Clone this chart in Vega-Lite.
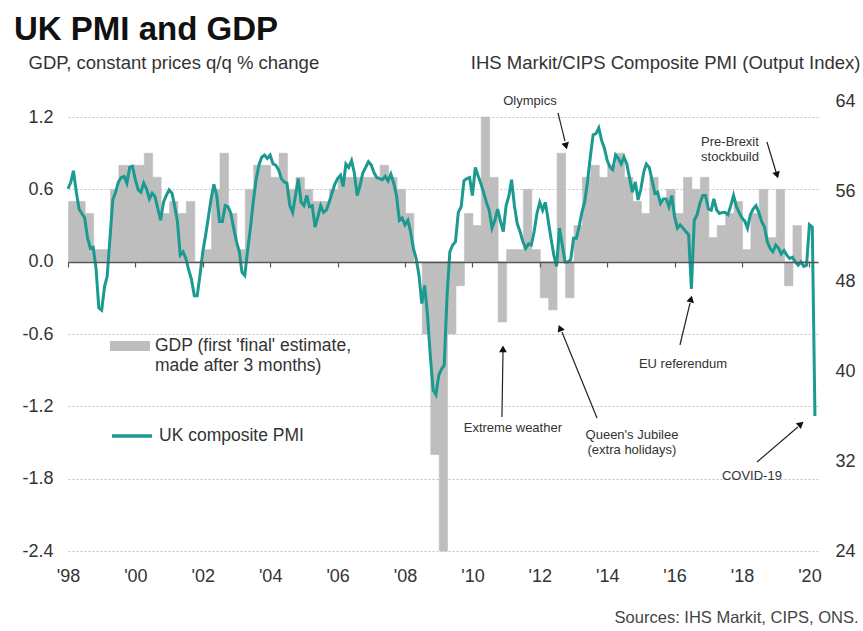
{
"$schema": "https://vega.github.io/schema/vega-lite/v6.json",
"width": 750, "height": 450,
"autosize": {"type": "none"},
"padding": {"left": 68, "top": 101, "right": 45, "bottom": 80},
"background": "white",
"config": {"view": {"stroke": null}, "font": "Liberation Sans", "bar": {"binSpacing": 0, "timeUnitBandSize": 1}, "axis": {"labelFont": "Liberation Sans", "titleFont": "Liberation Sans", "labelColor": "#333", "labelFontSize": 18}, "legend": {"labelFont": "Liberation Sans"}},
"title": {"text": "UK PMI and GDP", "anchor": "start", "frame": "group", "fontSize": 33, "fontWeight": "bold", "font": "Liberation Sans", "color": "#111", "dx": -54, "dy": 30, "offset": 10, "baseline": "alphabetic"},
"datasets": {
"gdp": [
{"d":"1998-02-15","v":0.5},{"d":"1998-05-15","v":0.5},{"d":"1998-08-15","v":0.4},{"d":"1998-11-15","v":0.1},
{"d":"1999-02-15","v":0.1},{"d":"1999-05-15","v":0.6},{"d":"1999-08-15","v":0.8},{"d":"1999-11-15","v":0.8},
{"d":"2000-02-15","v":0.8},{"d":"2000-05-15","v":0.9},{"d":"2000-08-15","v":0.7},{"d":"2000-11-15","v":0.4},
{"d":"2001-02-15","v":0.5},{"d":"2001-05-15","v":0.4},{"d":"2001-08-15","v":0.5},{"d":"2001-11-15","v":0.0},
{"d":"2002-02-15","v":0.1},{"d":"2002-05-15","v":0.6},{"d":"2002-08-15","v":0.9},{"d":"2002-11-15","v":0.4},
{"d":"2003-02-15","v":0.1},{"d":"2003-05-15","v":0.6},{"d":"2003-08-15","v":0.8},{"d":"2003-11-15","v":0.8},
{"d":"2004-02-15","v":0.7},{"d":"2004-05-15","v":0.9},{"d":"2004-08-15","v":0.6},{"d":"2004-11-15","v":0.7},
{"d":"2005-02-15","v":0.6},{"d":"2005-05-15","v":0.5},{"d":"2005-08-15","v":0.5},{"d":"2005-11-15","v":0.6},
{"d":"2006-02-15","v":0.7},{"d":"2006-05-15","v":0.7},{"d":"2006-08-15","v":0.7},{"d":"2006-11-15","v":0.7},
{"d":"2007-02-15","v":0.7},{"d":"2007-05-15","v":0.8},{"d":"2007-08-15","v":0.7},{"d":"2007-11-15","v":0.6},
{"d":"2008-02-15","v":0.4},{"d":"2008-05-15","v":0.0},{"d":"2008-08-15","v":-0.6},{"d":"2008-11-15","v":-1.6},
{"d":"2009-02-15","v":-2.4},{"d":"2009-05-15","v":-0.6},{"d":"2009-08-15","v":-0.2},{"d":"2009-11-15","v":0.4},
{"d":"2010-02-15","v":0.3},{"d":"2010-05-15","v":1.2},{"d":"2010-08-15","v":0.7},{"d":"2010-11-15","v":-0.5},
{"d":"2011-02-15","v":0.1},{"d":"2011-05-15","v":0.1},{"d":"2011-08-15","v":0.6},{"d":"2011-11-15","v":0.1},
{"d":"2012-02-15","v":-0.3},{"d":"2012-05-15","v":-0.4},{"d":"2012-08-15","v":0.9},{"d":"2012-11-15","v":-0.3},
{"d":"2013-02-15","v":0.3},{"d":"2013-05-15","v":0.7},{"d":"2013-08-15","v":0.8},{"d":"2013-11-15","v":0.7},
{"d":"2014-02-15","v":0.8},{"d":"2014-05-15","v":0.9},{"d":"2014-08-15","v":0.7},{"d":"2014-11-15","v":0.5},
{"d":"2015-02-15","v":0.4},{"d":"2015-05-15","v":0.7},{"d":"2015-08-15","v":0.5},{"d":"2015-11-15","v":0.6},
{"d":"2016-02-15","v":0.4},{"d":"2016-05-15","v":0.7},{"d":"2016-08-15","v":0.6},{"d":"2016-11-15","v":0.7},
{"d":"2017-02-15","v":0.2},{"d":"2017-05-15","v":0.3},{"d":"2017-08-15","v":0.4},{"d":"2017-11-15","v":0.5},
{"d":"2018-02-15","v":0.1},{"d":"2018-05-15","v":0.4},{"d":"2018-08-15","v":0.6},{"d":"2018-11-15","v":0.2},
{"d":"2019-02-15","v":0.6},{"d":"2019-05-15","v":-0.2},{"d":"2019-08-15","v":0.3},{"d":"2019-11-15","v":0.0}
],
"pmi": [
{"m":"1998-01-01","p":56.2},{"m":"1998-02-01","p":56.8},{"m":"1998-03-01","p":57.8},{"m":"1998-04-01","p":55.9},{"m":"1998-05-01","p":54.4},{"m":"1998-06-01","p":54.0},{"m":"1998-07-01","p":53.6},{"m":"1998-08-01","p":51.8},{"m":"1998-09-01","p":50.9},{"m":"1998-10-01","p":51.0},{"m":"1998-11-01","p":49.1},{"m":"1998-12-01","p":45.6},
{"m":"1999-01-01","p":45.4},{"m":"1999-02-01","p":47.5},{"m":"1999-03-01","p":48.4},{"m":"1999-04-01","p":51.8},{"m":"1999-05-01","p":55.2},{"m":"1999-06-01","p":55.9},{"m":"1999-07-01","p":56.8},{"m":"1999-08-01","p":57.2},{"m":"1999-09-01","p":57.3},{"m":"1999-10-01","p":56.7},{"m":"1999-11-01","p":58.1},{"m":"1999-12-01","p":58.2},
{"m":"2000-01-01","p":57.0},{"m":"2000-02-01","p":56.1},{"m":"2000-03-01","p":55.9},{"m":"2000-04-01","p":56.7},{"m":"2000-05-01","p":56.2},{"m":"2000-06-01","p":55.3},{"m":"2000-07-01","p":55.8},{"m":"2000-08-01","p":55.5},{"m":"2000-09-01","p":54.4},{"m":"2000-10-01","p":53.4},{"m":"2000-11-01","p":55.0},{"m":"2000-12-01","p":55.6},
{"m":"2001-01-01","p":56.1},{"m":"2001-02-01","p":55.8},{"m":"2001-03-01","p":54.7},{"m":"2001-04-01","p":53.3},{"m":"2001-05-01","p":50.3},{"m":"2001-06-01","p":50.6},{"m":"2001-07-01","p":50.0},{"m":"2001-08-01","p":49.0},{"m":"2001-09-01","p":48.1},{"m":"2001-10-01","p":46.7},{"m":"2001-11-01","p":46.7},{"m":"2001-12-01","p":48.5},
{"m":"2002-01-01","p":50.6},{"m":"2002-02-01","p":52.1},{"m":"2002-03-01","p":53.6},{"m":"2002-04-01","p":55.3},{"m":"2002-05-01","p":56.6},{"m":"2002-06-01","p":55.6},{"m":"2002-07-01","p":53.3},{"m":"2002-08-01","p":53.3},{"m":"2002-09-01","p":54.7},{"m":"2002-10-01","p":54.6},{"m":"2002-11-01","p":54.0},{"m":"2002-12-01","p":52.7},
{"m":"2003-01-01","p":51.5},{"m":"2003-02-01","p":50.6},{"m":"2003-03-01","p":48.8},{"m":"2003-04-01","p":48.5},{"m":"2003-05-01","p":50.7},{"m":"2003-06-01","p":52.7},{"m":"2003-07-01","p":55.0},{"m":"2003-08-01","p":57.0},{"m":"2003-09-01","p":58.3},{"m":"2003-10-01","p":59.0},{"m":"2003-11-01","p":59.2},{"m":"2003-12-01","p":58.9},
{"m":"2004-01-01","p":59.2},{"m":"2004-02-01","p":58.4},{"m":"2004-03-01","p":58.3},{"m":"2004-04-01","p":57.9},{"m":"2004-05-01","p":57.1},{"m":"2004-06-01","p":56.8},{"m":"2004-07-01","p":56.7},{"m":"2004-08-01","p":54.7},{"m":"2004-09-01","p":54.1},{"m":"2004-10-01","p":55.6},{"m":"2004-11-01","p":57.1},{"m":"2004-12-01","p":55.0},
{"m":"2005-01-01","p":54.7},{"m":"2005-02-01","p":55.6},{"m":"2005-03-01","p":54.6},{"m":"2005-04-01","p":54.7},{"m":"2005-05-01","p":52.8},{"m":"2005-06-01","p":53.7},{"m":"2005-07-01","p":54.7},{"m":"2005-08-01","p":54.1},{"m":"2005-09-01","p":54.3},{"m":"2005-10-01","p":55.0},{"m":"2005-11-01","p":55.8},{"m":"2005-12-01","p":56.6},
{"m":"2006-01-01","p":57.1},{"m":"2006-02-01","p":57.4},{"m":"2006-03-01","p":56.4},{"m":"2006-04-01","p":58.4},{"m":"2006-05-01","p":58.1},{"m":"2006-06-01","p":58.7},{"m":"2006-07-01","p":57.6},{"m":"2006-08-01","p":55.6},{"m":"2006-09-01","p":56.5},{"m":"2006-10-01","p":57.6},{"m":"2006-11-01","p":58.1},{"m":"2006-12-01","p":58.6},
{"m":"2007-01-01","p":58.3},{"m":"2007-02-01","p":57.6},{"m":"2007-03-01","p":57.2},{"m":"2007-04-01","p":57.1},{"m":"2007-05-01","p":57.0},{"m":"2007-06-01","p":57.3},{"m":"2007-07-01","p":56.9},{"m":"2007-08-01","p":57.5},{"m":"2007-09-01","p":56.7},{"m":"2007-10-01","p":55.6},{"m":"2007-11-01","p":53.4},{"m":"2007-12-01","p":53.6},
{"m":"2008-01-01","p":53.0},{"m":"2008-02-01","p":53.4},{"m":"2008-03-01","p":52.4},{"m":"2008-04-01","p":50.9},{"m":"2008-05-01","p":50.0},{"m":"2008-06-01","p":48.5},{"m":"2008-07-01","p":46.0},{"m":"2008-08-01","p":47.6},{"m":"2008-09-01","p":45.0},{"m":"2008-10-01","p":41.4},{"m":"2008-11-01","p":38.3},{"m":"2008-12-01","p":37.9},
{"m":"2009-01-01","p":39.6},{"m":"2009-02-01","p":40.2},{"m":"2009-03-01","p":40.5},{"m":"2009-04-01","p":46.7},{"m":"2009-05-01","p":50.6},{"m":"2009-06-01","p":51.2},{"m":"2009-07-01","p":51.5},{"m":"2009-08-01","p":54.1},{"m":"2009-09-01","p":54.6},{"m":"2009-10-01","p":56.9},{"m":"2009-11-01","p":57.1},{"m":"2009-12-01","p":57.2},
{"m":"2010-01-01","p":55.6},{"m":"2010-02-01","p":58.1},{"m":"2010-03-01","p":57.4},{"m":"2010-04-01","p":56.7},{"m":"2010-05-01","p":55.9},{"m":"2010-06-01","p":55.0},{"m":"2010-07-01","p":54.3},{"m":"2010-08-01","p":52.7},{"m":"2010-09-01","p":53.4},{"m":"2010-10-01","p":54.4},{"m":"2010-11-01","p":53.3},{"m":"2010-12-01","p":52.4},
{"m":"2011-01-01","p":54.7},{"m":"2011-02-01","p":55.6},{"m":"2011-03-01","p":57.0},{"m":"2011-04-01","p":54.7},{"m":"2011-05-01","p":53.1},{"m":"2011-06-01","p":52.4},{"m":"2011-07-01","p":51.5},{"m":"2011-08-01","p":50.9},{"m":"2011-09-01","p":51.3},{"m":"2011-10-01","p":51.2},{"m":"2011-11-01","p":52.4},{"m":"2011-12-01","p":54.0},
{"m":"2012-01-01","p":55.0},{"m":"2012-02-01","p":54.3},{"m":"2012-03-01","p":55.0},{"m":"2012-04-01","p":53.4},{"m":"2012-05-01","p":51.8},{"m":"2012-06-01","p":50.3},{"m":"2012-07-01","p":49.3},{"m":"2012-08-01","p":52.7},{"m":"2012-09-01","p":51.2},{"m":"2012-10-01","p":49.7},{"m":"2012-11-01","p":49.7},{"m":"2012-12-01","p":49.9},
{"m":"2013-01-01","p":51.8},{"m":"2013-02-01","p":51.8},{"m":"2013-03-01","p":52.8},{"m":"2013-04-01","p":54.1},{"m":"2013-05-01","p":55.0},{"m":"2013-06-01","p":56.8},{"m":"2013-07-01","p":59.0},{"m":"2013-08-01","p":61.0},{"m":"2013-09-01","p":61.1},{"m":"2013-10-01","p":61.6},{"m":"2013-11-01","p":60.5},{"m":"2013-12-01","p":59.8},
{"m":"2014-01-01","p":58.7},{"m":"2014-02-01","p":58.1},{"m":"2014-03-01","p":57.9},{"m":"2014-04-01","p":59.2},{"m":"2014-05-01","p":58.9},{"m":"2014-06-01","p":58.4},{"m":"2014-07-01","p":59.0},{"m":"2014-08-01","p":58.4},{"m":"2014-09-01","p":57.1},{"m":"2014-10-01","p":55.9},{"m":"2014-11-01","p":56.8},{"m":"2014-12-01","p":55.2},
{"m":"2015-01-01","p":56.2},{"m":"2015-02-01","p":57.7},{"m":"2015-03-01","p":58.4},{"m":"2015-04-01","p":58.1},{"m":"2015-05-01","p":57.0},{"m":"2015-06-01","p":55.8},{"m":"2015-07-01","p":55.9},{"m":"2015-08-01","p":54.9},{"m":"2015-09-01","p":55.3},{"m":"2015-10-01","p":55.3},{"m":"2015-11-01","p":54.6},{"m":"2015-12-01","p":55.6},
{"m":"2016-01-01","p":53.7},{"m":"2016-02-01","p":52.7},{"m":"2016-03-01","p":53.0},{"m":"2016-04-01","p":52.7},{"m":"2016-05-01","p":52.4},{"m":"2016-06-01","p":52.1},{"m":"2016-07-01","p":47.3},{"m":"2016-08-01","p":53.4},{"m":"2016-09-01","p":53.9},{"m":"2016-10-01","p":54.9},{"m":"2016-11-01","p":55.6},{"m":"2016-12-01","p":55.6},
{"m":"2017-01-01","p":54.4},{"m":"2017-02-01","p":54.3},{"m":"2017-03-01","p":55.3},{"m":"2017-04-01","p":54.3},{"m":"2017-05-01","p":54.0},{"m":"2017-06-01","p":54.1},{"m":"2017-07-01","p":54.1},{"m":"2017-08-01","p":53.9},{"m":"2017-09-01","p":54.7},{"m":"2017-10-01","p":55.6},{"m":"2017-11-01","p":54.6},{"m":"2017-12-01","p":54.1},
{"m":"2018-01-01","p":53.6},{"m":"2018-02-01","p":53.3},{"m":"2018-03-01","p":52.7},{"m":"2018-04-01","p":53.9},{"m":"2018-05-01","p":54.4},{"m":"2018-06-01","p":54.7},{"m":"2018-07-01","p":54.1},{"m":"2018-08-01","p":53.3},{"m":"2018-09-01","p":52.8},{"m":"2018-10-01","p":51.5},{"m":"2018-11-01","p":50.9},{"m":"2018-12-01","p":50.6},
{"m":"2019-01-01","p":51.2},{"m":"2019-02-01","p":50.9},{"m":"2019-03-01","p":50.4},{"m":"2019-04-01","p":50.7},{"m":"2019-05-01","p":50.3},{"m":"2019-06-01","p":50.0},{"m":"2019-07-01","p":50.1},{"m":"2019-08-01","p":49.7},{"m":"2019-09-01","p":49.4},{"m":"2019-10-01","p":49.7},{"m":"2019-11-01","p":49.3},{"m":"2019-12-01","p":49.4},
{"m":"2020-01-01","p":53.0},{"m":"2020-02-01","p":52.8},{"m":"2020-03-01","p":36.0}
],
"notes": [
{"d":"2011-09-16","v":1.296,"t":["Olympics"]},
{"d":"2017-08-23","v":0.96,"t":["Pre-Brexit","stockbuild"]},
{"d":"2016-04-01","v":-0.878,"t":["EU referendum"]},
{"d":"2011-03-15","v":-1.409,"t":["Extreme weather"]},
{"d":"2014-09-26","v":-1.467,"t":["Queen's Jubilee","(extra holidays)"]},
{"d":"2018-04-18","v":-1.815,"t":["COVID-19"]}
],
"arrows": [
{"d":"2012-07-16","v":1.234,"d2":"2012-09-30","v2":1.001},
{"d":"2018-09-28","v":0.993,"d2":"2019-01-04","v2":0.744},
{"d":"2016-02-28","v":-0.691,"d2":"2016-06-16","v2":-0.343},
{"d":"2010-11-17","v":-1.288,"d2":"2010-11-28","v2":-0.749},
{"d":"2013-09-12","v":-1.297,"d2":"2012-08-28","v2":-0.583},
{"d":"2018-06-12","v":-1.662,"d2":"2019-08-29","v2":-1.371}
]
},
"layer": [
{
"encoding": {
"x": {"field": "d", "type": "temporal",
 "scale": {"domain": [{"year":1998,"month":1,"date":1},{"year":2020,"month":4,"date":3}]},
 "axis": {"orient": "bottom", "values": [{"year":1998},{"year":2000},{"year":2002},{"year":2004},{"year":2006},{"year":2008},{"year":2010},{"year":2012},{"year":2014},{"year":2016},{"year":2018},{"year":2020}],
  "labelExpr": "'\\'' + timeFormat(datum.value, '%y')", "domain": false, "ticks": false, "grid": false, "labelPadding": 16, "labelFontSize": 18, "labelOverlap": false, "labelFlush": false,
  "title": "Sources: IHS Markit, CIPS, ONS.", "titleX": 790, "titleY": 71, "titleAlign": "right", "titleBaseline": "alphabetic", "titleFontSize": 16.5, "titleFontWeight": "normal", "titleColor": "#444"}},
"y": {"field": "v", "type": "quantitative",
 "scale": {"domain": [-2.4, 1.333], "nice": false, "zero": false},
 "axis": {"orient": "left", "values": [-2.4,-1.8,-1.2,-0.6,0,0.6,1.2], "labelExpr": "replace(format(datum.value,'.1f'),'\u2212','-')", "domain": false, "ticks": false, "grid": true, "gridDash": [2,2], "gridColor": "#c4c4c4", "labelPadding": 15,
  "title": "GDP, constant prices q/q % change", "titleAngle": 0, "titleX": -40, "titleY": -33, "titleAlign": "left", "titleBaseline": "alphabetic", "titleFontSize": 18.5, "titleFontWeight": "normal", "titleColor": "#333"}}
},
"layer": [
{"data": {"name": "gdp"}, "mark": {"type": "bar", "strokeWidth": 0.6, "stroke": "#bebebe", "binSpacing": 0},
 "encoding": {
 "x": {"field": "d", "type": "temporal", "timeUnit": "yearquarter",
  "scale": {"domain": [{"year":1998,"month":1,"date":1},{"year":2020,"month":4,"date":3}]},
  "axis": {"orient": "bottom", "values": [{"year":1998},{"year":2000},{"year":2002},{"year":2004},{"year":2006},{"year":2008},{"year":2010},{"year":2012},{"year":2014},{"year":2016},{"year":2018},{"year":2020}],
   "labelExpr": "'\\'' + timeFormat(datum.value, '%y')", "domain": false, "ticks": false, "grid": false, "labelPadding": 16, "labelFontSize": 18, "labelOverlap": false, "labelFlush": false,
   "title": "Sources: IHS Markit, CIPS, ONS.", "titleX": 790, "titleY": 71, "titleAlign": "right", "titleBaseline": "alphabetic", "titleFontSize": 16.5, "titleFontWeight": "normal", "titleColor": "#444"}},
 "fill": {"datum": "GDP", "type": "nominal", "scale": {"range": ["#bebebe"]},
  "legend": {"orient": "none", "legendX": 42, "legendY": 225, "symbolType": "M-1,-0.25H1V0.25H-1Z", "symbolSize": 1600, "symbolStrokeWidth": 0, "labelExpr": "['GDP (first \\'final\\' estimate,', 'made after 3 months)']", "labelFontSize": 17.5, "labelColor": "#333", "labelLimit": 0, "labelOffset": 5, "labelLineHeight": 21, "title": null, "padding": 0}}
 }},
{"data": {"name": "arrows"}, "mark": {"type": "rule", "color": "#222", "strokeWidth": 1.2},
 "encoding": {"x2": {"field": "d2"}, "y2": {"field": "v2"}}},
{"data": {"name": "notes"}, "mark": {"type": "text", "align": "center", "baseline": "alphabetic", "fontSize": 13, "lineHeight": 15, "color": "#333", "font": "Liberation Sans"},
 "encoding": {"text": {"field": "t"}}},
{"data": {"values": [{"d":"2012-10-11","v":0.96}]}, "mark": {"type": "point", "shape": "triangle-up", "angle": 166, "filled": true, "size": 60, "color": "#111", "opacity": 1}},
{"data": {"values": [{"d":"2019-01-15","v":0.719}]}, "mark": {"type": "point", "shape": "triangle-up", "angle": 163, "filled": true, "size": 60, "color": "#111", "opacity": 1}},
{"data": {"values": [{"d":"2016-06-27","v":-0.309}]}, "mark": {"type": "point", "shape": "triangle-up", "angle": 14, "filled": true, "size": 60, "color": "#111", "opacity": 1}},
{"data": {"values": [{"d":"2010-11-28","v":-0.724}]}, "mark": {"type": "point", "shape": "triangle-up", "angle": 0, "filled": true, "size": 60, "color": "#111", "opacity": 1}},
{"data": {"values": [{"d":"2012-08-07","v":-0.55}]}, "mark": {"type": "point", "shape": "triangle-up", "angle": 338, "filled": true, "size": 60, "color": "#111", "opacity": 1}},
{"data": {"values": [{"d":"2019-10-01","v":-1.346}]}, "mark": {"type": "point", "shape": "triangle-up", "angle": 50, "filled": true, "size": 60, "color": "#111", "opacity": 1}}
]
},
{
"data": {"name": "pmi"},
"mark": {"type": "line", "strokeWidth": 3, "clip": false},
"encoding": {
"x": {"field": "m", "type": "temporal",
 "scale": {"domain": [{"year":1998,"month":1,"date":1},{"year":2020,"month":4,"date":3}]},
 "axis": {"orient": "bottom", "offset": -289, "values": [{"year":1998},{"year":2000},{"year":2002},{"year":2004},{"year":2006},{"year":2008},{"year":2010},{"year":2012},{"year":2014},{"year":2016},{"year":2018},{"year":2020}],
  "labels": false, "domain": true, "domainColor": "#555", "domainWidth": 1.5, "ticks": true, "tickColor": "#555", "tickSize": 5, "tickWidth": 1.2, "grid": false, "title": null, "zindex": 1}},
"y": {"field": "p", "type": "quantitative",
 "scale": {"domain": [24, 64], "nice": false, "zero": false},
 "axis": {"orient": "right", "values": [24,32,40,48,56,64], "domain": false, "ticks": false, "grid": false, "labelPadding": 17,
  "title": "IHS Markit/CIPS Composite PMI (Output Index)", "titleAngle": 0, "titleX": 42, "titleY": -33, "titleAlign": "right", "titleBaseline": "alphabetic", "titleFontSize": 18.5, "titleFontWeight": "normal", "titleColor": "#333"}},
"stroke": {"datum": "UK composite PMI", "type": "nominal", "scale": {"range": ["#1a9a90"]},
 "legend": {"orient": "none", "legendX": 42, "legendY": 313, "symbolType": "stroke", "symbolSize": 1600, "symbolStrokeWidth": 3.5, "labelFontSize": 17.5, "labelColor": "#333", "labelLimit": 0, "labelOffset": 5, "title": null, "padding": 0}}
}
}
],
"resolve": {"scale": {"x": "independent", "y": "independent", "fill": "independent", "stroke": "independent"}, "axis": {"x": "independent", "y": "independent"}}
}
